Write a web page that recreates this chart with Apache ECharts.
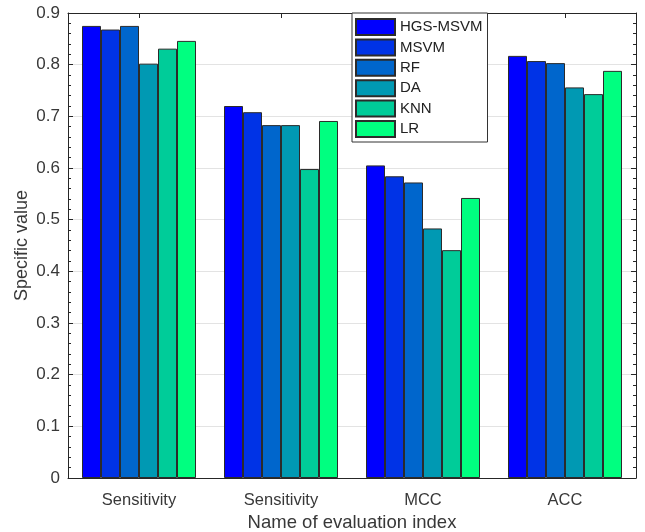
<!DOCTYPE html>
<html>
<head>
<meta charset="utf-8">
<title>Specific value by evaluation index</title>
<script src="https://cdn.jsdelivr.net/npm/echarts@6.0.0/dist/echarts.min.js"></script>
<style>
  html, body { margin: 0; padding: 0; background: #fff; }
  #chart { width: 645px; height: 532px; }
</style>
</head>
<body>
<div id="chart"></div>
<script>
// data
var categories = ['Sensitivity', 'Sensitivity', 'MCC', 'ACC'];
var methods = ['HGS-MSVM', 'MSVM', 'RF', 'DA', 'KNN', 'LR'];
var hgsMsvm = [0.875, 0.720, 0.605, 0.817];
var msvm    = [0.868, 0.708, 0.584, 0.807];
var rf      = [0.875, 0.683, 0.572, 0.803];
var da      = [0.802, 0.683, 0.483, 0.756];
var knn     = [0.831, 0.598, 0.441, 0.743];
var lr      = [0.846, 0.691, 0.542, 0.788];
var yTicks  = [0, 0.1, 0.2, 0.3, 0.4, 0.5, 0.6, 0.7, 0.8, 0.9];

// winter colormap, 6 steps
var colors = ['#0000ff', '#0033e6', '#0066cc', '#0099b3', '#00cc99', '#00ff80'];
var values = [hgsMsvm, msvm, rf, da, knn, lr];

var font = "'Liberation Sans', Arial, sans-serif";
var ink = '#383838';

var chart = echarts.init(document.getElementById('chart'));

var series = methods.map(function (name, i) {
  return {
    name: name,
    type: 'bar',
    data: values[i],
    barWidth: 19,
    barGap: '0%',
    itemStyle: { color: colors[i], borderColor: '#2b2b2b', borderWidth: 1 }
  };
});

function valueAxis(pos, withLabels) {
  return {
    type: 'value',
    position: pos,
    min: yTicks[0],
    max: yTicks[yTicks.length - 1],
    interval: 0.1,
    name: withLabels ? 'Specific value' : '',
    nameLocation: 'middle',
    nameGap: 37,
    nameMoveOverlap: false,
    nameTextStyle: { fontFamily: font, fontSize: 18, color: ink },
    axisLine: { show: true, onZero: false, lineStyle: { color: '#262626', width: 1 } },
    axisTick: { show: true, inside: true, length: 5, lineStyle: { color: '#262626' } },
    minorTick: { show: true, splitNumber: 5, length: 3, lineStyle: { color: '#262626' } },
    axisLabel: {
      show: withLabels, margin: 8, fontFamily: font, fontSize: 17, color: ink,
      formatter: function (v) { return String(Math.round(v * 10) / 10); }
    },
    splitLine: { show: withLabels, lineStyle: { color: '#e3e3e3', width: 1 } }
  };
}

function catAxis(pos, withLabels) {
  return {
    type: 'category',
    position: pos,
    data: categories,
    name: withLabels ? 'Name of evaluation index' : '',
    nameLocation: 'middle',
    nameGap: 35,
    nameTextStyle: { fontFamily: font, fontSize: 18.5, color: ink },
    axisLine: { show: true, onZero: false, lineStyle: { color: '#262626', width: 1 } },
    axisTick: { show: true, inside: true, alignWithLabel: true, length: 5, lineStyle: { color: '#262626' } },
    axisLabel: { show: withLabels, margin: 14, fontFamily: font, fontSize: 16.5, color: ink },
    splitLine: { show: false }
  };
}

chart.setOption({
  animation: false,
  backgroundColor: '#fff',
  color: colors,
  grid: { left: 68, right: 9, top: 13, bottom: 54, containLabel: false, outerBoundsMode: 'none' },
  legend: {
    data: methods,
    orient: 'vertical',
    left: 352,
    top: 13,
    icon: 'rect',
    itemWidth: 39,
    itemHeight: 16,
    itemGap: 2.4,
    padding: [5, 5, 4, 3],
    backgroundColor: '#fff',
    borderColor: '#333',
    borderWidth: 1,
    textStyle: { fontFamily: font, fontSize: 15, color: '#222' }
  },
  xAxis: [catAxis('bottom', true), catAxis('top', false)],
  yAxis: [valueAxis('left', true), valueAxis('right', false)],
  series: series
});
</script>
</body>
</html>
